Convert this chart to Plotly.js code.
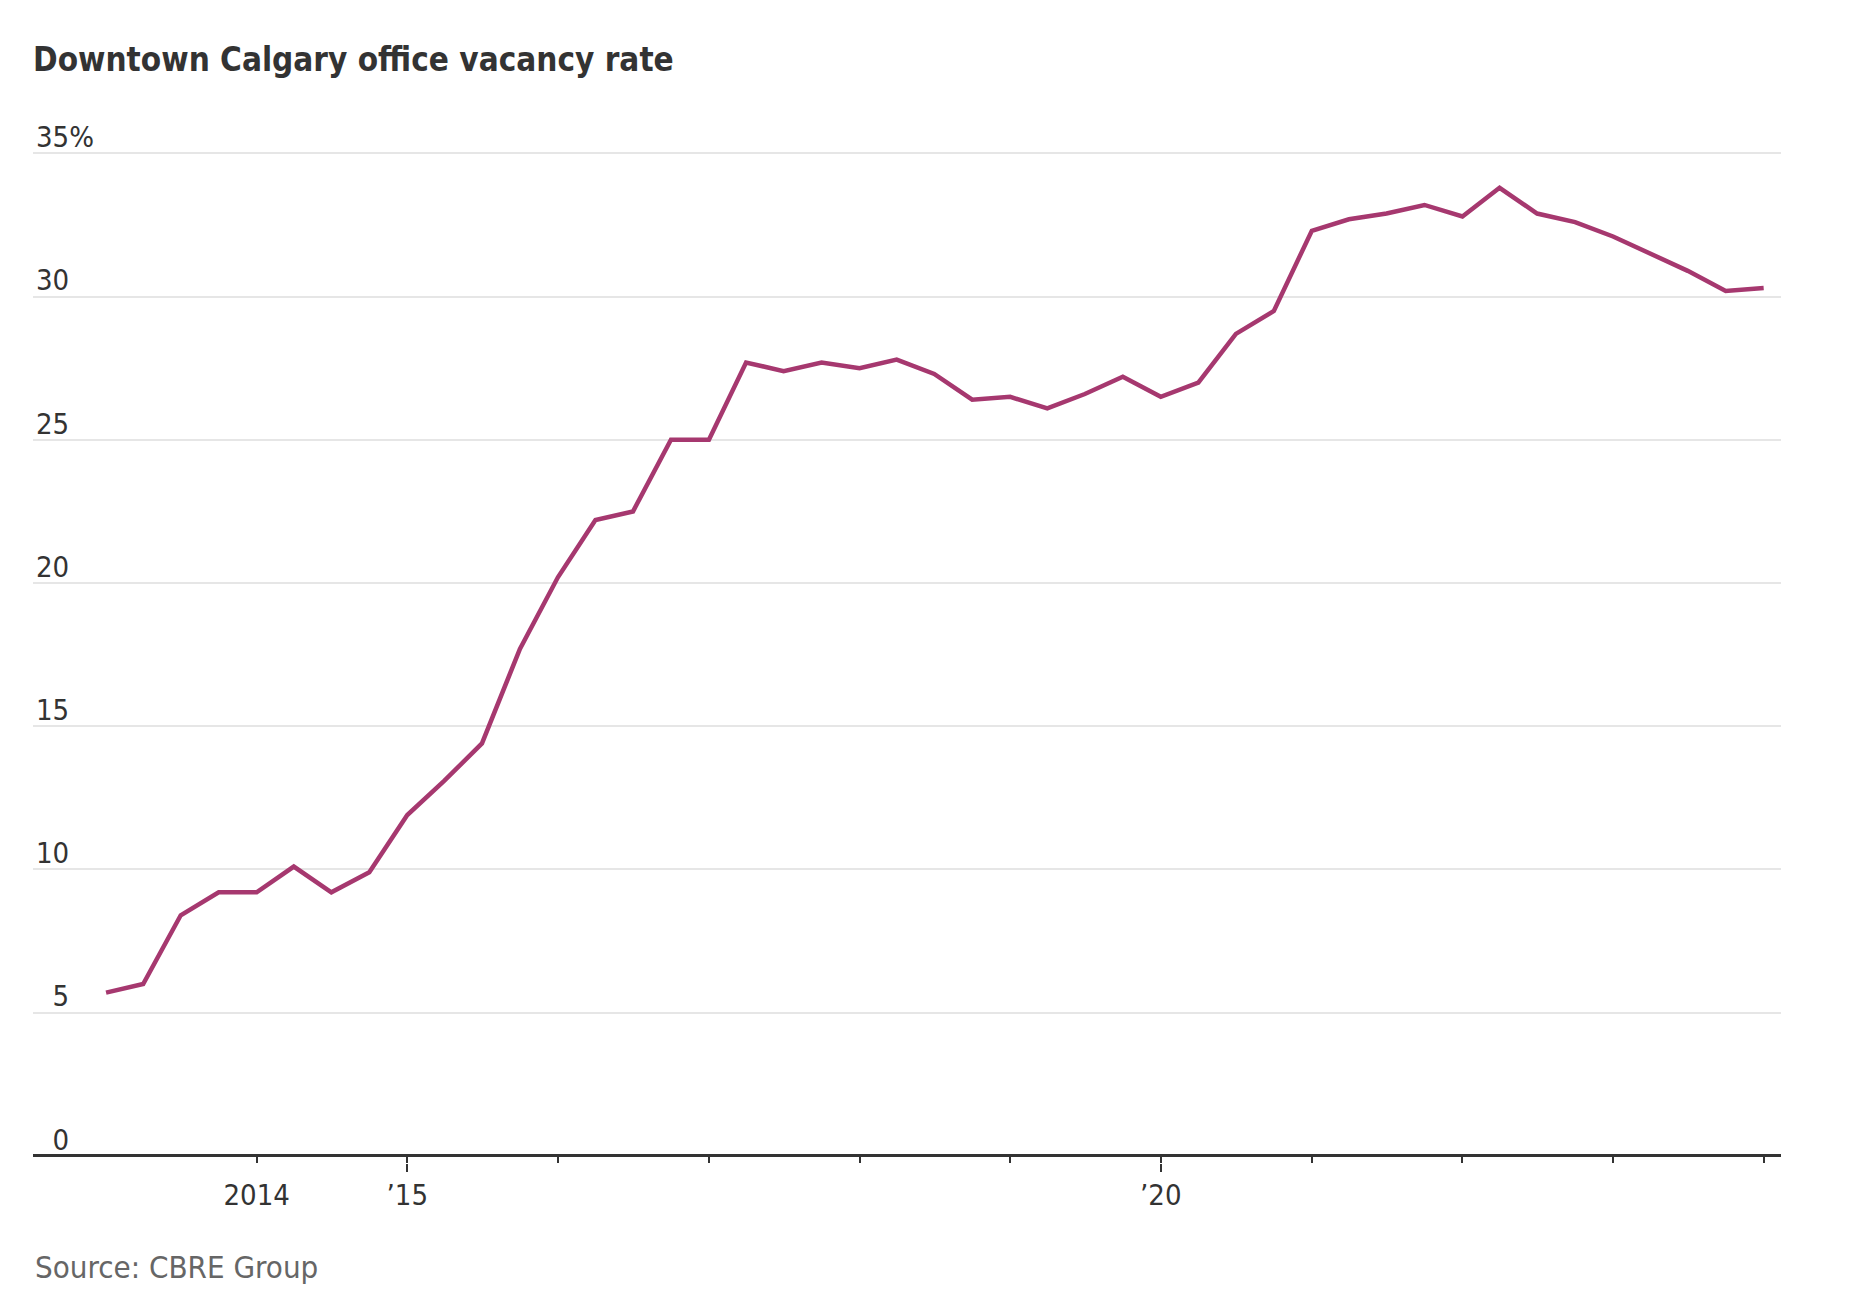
<!DOCTYPE html>
<html>
<head>
<meta charset="utf-8">
<script src="https://cdn.plot.ly/plotly-3.0.1.min.js"></script>
<style>
  html, body { margin: 0; padding: 0; background: #ffffff; }
  #chart { width: 1852px; height: 1314px; }
</style>
</head>
<body>
<div id="chart"></div>
<script>
// Quarterly observations
const quarters = [
  "2013-01-01","2013-04-01","2013-07-01","2013-10-01",
  "2014-01-01","2014-04-01","2014-07-01","2014-10-01",
  "2015-01-01","2015-04-01","2015-07-01","2015-10-01",
  "2016-01-01","2016-04-01","2016-07-01","2016-10-01",
  "2017-01-01","2017-04-01","2017-07-01","2017-10-01",
  "2018-01-01","2018-04-01","2018-07-01","2018-10-01",
  "2019-01-01","2019-04-01","2019-07-01","2019-10-01",
  "2020-01-01","2020-04-01","2020-07-01","2020-10-01",
  "2021-01-01","2021-04-01","2021-07-01","2021-10-01",
  "2022-01-01","2022-04-01","2022-07-01","2022-10-01",
  "2023-01-01","2023-04-01","2023-07-01","2023-10-01",
  "2024-01-01"
];
const vacancyRate = [
  5.7, 6.0, 8.4, 9.2,
  9.2, 10.1, 9.2, 9.9,
  11.9, 13.1, 14.4, 17.7,
  20.2, 22.2, 22.5, 25.0,
  25.0, 27.7, 27.4, 27.7,
  27.5, 27.8, 27.3, 26.4,
  26.5, 26.1, 26.6, 27.2,
  26.5, 27.0, 28.7, 29.5,
  32.3, 32.7, 32.9, 33.2,
  32.8, 33.8, 32.9, 32.6,
  32.1, 31.5, 30.9, 30.2,
  30.3
];
// X-axis ticks
const yearTicks = ["2014-01-01","2015-01-01","2016-01-01","2017-01-01","2018-01-01","2019-01-01",
                   "2020-01-01","2021-01-01","2022-01-01","2023-01-01","2024-01-01"];
const yearLabels = ["2014","\u201915","","","","","\u201920","","","",""];
const majorYearTicks = ["2015-01-01","2020-01-01"];
// Y-axis ticks
const yTickVals = [0, 5, 10, 15, 20, 25, 30, 35];
const yTickText = ["\u20070","\u20075","10","15","20","25","30","35%"];

const FONT = "'DejaVu Sans Condensed', 'Liberation Sans Narrow', sans-serif";
const LINE_COLOR = "#a6386f";

const traces = [
  {
    x: quarters, y: vacancyRate, type: "scatter", mode: "lines",
    line: { color: LINE_COLOR, width: 4.5, shape: "linear" },
    hoverinfo: "x+y", showlegend: false
  },
  {
    x: quarters, y: vacancyRate, type: "scatter", mode: "lines",
    xaxis: "x2", line: { color: "rgba(0,0,0,0)", width: 0 },
    hoverinfo: "skip", showlegend: false
  }
];

const xRange = ["2012-07-08", "2024-02-12"];

const layout = {
  width: 1852, height: 1314,
  paper_bgcolor: "#ffffff", plot_bgcolor: "#ffffff",
  margin: { l: 33, r: 71, t: 99, b: 151 },
  font: { family: FONT, color: "#333333", size: 29 },
  title: {
    text: "<b>Downtown Calgary office vacancy rate</b>",
    font: { family: FONT, size: 33, color: "#333333" },
    xref: "container", yref: "container",
    x: 33 / 1852, xanchor: "left",
    y: 1 - 59 / 1314, yanchor: "middle"
  },
  xaxis: {
    type: "date", range: xRange,
    tickmode: "array", tickvals: yearTicks, ticktext: yearLabels,
    ticks: "inside", ticklen: 8, tickwidth: 2, tickcolor: "#333333",
    showline: false,
    showgrid: false, zeroline: false,
    tickfont: { family: FONT, size: 29, color: "#333333" },
    ticklabelstandoff: 12,
    fixedrange: true
  },
  xaxis2: {
    type: "date", range: xRange, overlaying: "x", anchor: "y", side: "bottom",
    tickmode: "array", tickvals: majorYearTicks,
    ticks: "outside", ticklen: 8, tickwidth: 2, tickcolor: "#333333",
    showticklabels: false, showline: false, showgrid: false, zeroline: false,
    fixedrange: true
  },
  yaxis: {
    range: [-0.25, 36.9],
    tickmode: "array", tickvals: yTickVals, ticktext: yTickText,
    ticks: "", ticklabelposition: "inside top", ticklabelshift: 4,
    tickfont: { family: FONT, size: 29, color: "#333333" },
    showgrid: true, gridcolor: "#e6e6e6", gridwidth: 2,
    zeroline: true, zerolinecolor: "#333333", zerolinewidth: 2.5,
    showline: false,
    fixedrange: true
  },
  annotations: [
    {
      text: "Source: CBRE Group",
      xref: "paper", yref: "paper", x: 0, y: -0.098,
      xanchor: "left", yanchor: "middle", showarrow: false,
      font: { family: FONT, size: 31, color: "#666666" }
    }
  ],
  showlegend: false
};

Plotly.newPlot("chart", traces, layout, { displayModeBar: false });
</script>
</body>
</html>
